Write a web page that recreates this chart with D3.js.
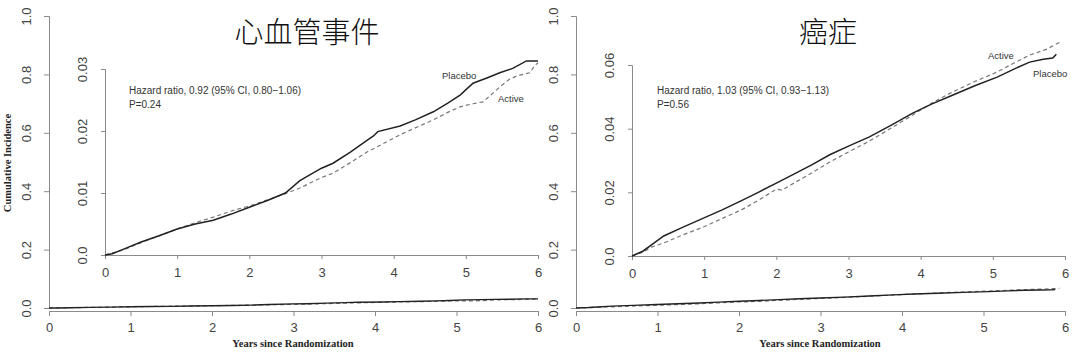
<!DOCTYPE html>
<html><head><meta charset="utf-8">
<script src="https://cdn.jsdelivr.net/npm/d3@7"></script>
<style>
html,body{margin:0;padding:0;background:#fff;}
svg{display:block;}
</style>
</head><body>
<svg id="c" width="1080" height="355"></svg>
<script>
// ---------- data ----------
const titles = ["心血管事件", "癌症"];
const hrTexts = ["Hazard ratio, 0.92 (95% CI, 0.80\u22121.06)", "Hazard ratio, 1.03 (95% CI, 0.93\u22121.13)"];
const pTexts = ["P=0.24", "P=0.56"];
const seriesNames = ["Placebo", "Active"];
const xTicks = [0, 1, 2, 3, 4, 5, 6];
const outerYTicks = [0.0, 0.2, 0.4, 0.6, 0.8, 1.0];
const cvdInsetTicks = [0.0, 0.01, 0.02, 0.03];
const cancerInsetTicks = [0.0, 0.02, 0.04, 0.06];
const yAxisTitle = "Cumulative Incidence";
const xAxisTitle = "Years since Randomization";

const cvdPlacebo = [[0,0],[0.1,0.0002],[0.25,0.0009],[0.5,0.0021],[0.75,0.0031],[1.0,0.0042],[1.25,0.0050],[1.5,0.0056],[1.75,0.0066],[2.0,0.0077],[2.25,0.0088],[2.5,0.0100],[2.7,0.0120],[3.0,0.0140],[3.16,0.0148],[3.4,0.0166],[3.63,0.0185],[3.72,0.0192],[3.78,0.0199],[4.09,0.0208],[4.3,0.0218],[4.55,0.0231],[4.75,0.0245],[4.92,0.0258],[5.1,0.0277],[5.3,0.0286],[5.47,0.0294],[5.65,0.0301],[5.84,0.0313],[6.0,0.0313]];
const cvdActive = [[0,0],[0.25,0.0008],[0.5,0.0020],[0.75,0.0031],[1.0,0.0042],[1.3,0.0054],[1.5,0.0061],[1.75,0.0071],[2.0,0.0079],[2.25,0.0089],[2.5,0.0099],[2.7,0.0108],[3.0,0.0125],[3.16,0.0132],[3.4,0.0149],[3.63,0.0166],[4.09,0.0194],[4.3,0.0205],[4.55,0.0218],[4.75,0.0230],[4.92,0.0239],[5.1,0.0244],[5.24,0.0247],[5.47,0.0271],[5.6,0.0283],[5.71,0.0289],[5.89,0.0294],[5.95,0.0305],[6.0,0.0310]];
const cancerPlacebo = [[0,0],[0.15,0.0015],[0.27,0.0035],[0.44,0.0063],[0.7,0.0090],[0.99,0.0119],[1.25,0.0145],[1.51,0.0173],[1.75,0.0200],[2.0,0.0229],[2.25,0.0258],[2.49,0.0286],[2.74,0.0318],[3.0,0.0345],[3.29,0.0374],[3.6,0.0412],[3.89,0.0449],[4.15,0.0477],[4.44,0.0505],[4.75,0.0535],[5.06,0.0562],[5.3,0.0588],[5.51,0.0609],[5.7,0.0618],[5.83,0.0622],[5.88,0.0634]];
const cancerActive = [[0,0],[0.15,0.0012],[0.27,0.0028],[0.44,0.0041],[0.7,0.0066],[0.99,0.0091],[1.25,0.0118],[1.51,0.0144],[1.75,0.0175],[2.0,0.0210],[2.08,0.0207],[2.25,0.0230],[2.49,0.0261],[2.74,0.0295],[3.0,0.0327],[3.29,0.0361],[3.6,0.0403],[3.89,0.0443],[4.15,0.0480],[4.44,0.0515],[4.75,0.0548],[5.06,0.0578],[5.3,0.0607],[5.51,0.0631],[5.75,0.0650],[5.93,0.0672]];

// ---------- layout ----------
const svg = d3.select("#c");
const SANS = "'Liberation Sans', Arial, sans-serif";
const SERIF = "'Liberation Serif', 'Times New Roman', serif";
const AXC = "#8a8a8a", TXC = "#444";

const panels = [
  {title: titles[0], hr: hrTexts[0], p: pTexts[0], placebo: cvdPlacebo, active: cvdActive,
   insetTicks: cvdInsetTicks, insetMax: 0.03, insetFmt: d => d === 0 ? "0.0" : d3.format(".2f")(d),
   ox0: 49, ox1: 538, oy0: 308, oy1: 16,
   ix0: 105, ix1: 538, iy0: 255, iyTop: 69,
   titleX: 307, hrX: 129,
   labels: [{t: seriesNames[0], x: 442, y: 79}, {t: seriesNames[1], x: 498, y: 102}],
   showYTitle: true, xTitleX: 293},
  {title: titles[1], hr: hrTexts[1], p: pTexts[1], placebo: cancerPlacebo, active: cancerActive,
   insetTicks: cancerInsetTicks, insetMax: 0.06, insetFmt: d => d === 0 ? "0.0" : d3.format(".2f")(d),
   ox0: 576, ox1: 1065, oy0: 308, oy1: 16,
   ix0: 632, ix1: 1065, iy0: 256, iyTop: 65,
   titleX: 828, hrX: 657,
   labels: [{t: seriesNames[1], x: 988, y: 59}, {t: seriesNames[0], x: 1033, y: 77}],
   showYTitle: false, xTitleX: 820}
];

function styleAxis(g){
  g.selectAll(".domain").attr("stroke", AXC).attr("stroke-width", 1);
  g.selectAll(".tick line").attr("stroke", AXC).attr("stroke-width", 1);
  g.selectAll(".tick text").attr("fill", TXC).attr("font-family", SANS).attr("font-size", 13);
}

panels.forEach(P => {
  const g = svg.append("g");
  // outer scales
  const ox = d3.scaleLinear().domain([0, 6]).range([P.ox0, P.ox1]);
  const oy = d3.scaleLinear().domain([0, 1]).range([P.oy0, P.oy1]);
  // inset scales
  const ix = d3.scaleLinear().domain([0, 6]).range([P.ix0, P.ix1]);
  const iy = d3.scaleLinear().domain([0, P.insetMax]).range([P.iy0, P.iyTop]);

  // outer x axis
  const gx = g.append("g").attr("transform", `translate(0,${P.oy0 + 3})`)
    .call(d3.axisBottom(ox).tickValues(xTicks).tickFormat(d3.format("d")).tickSizeOuter(0).tickSize(5).tickPadding(7));
  styleAxis(gx);
  // outer y axis
  const gy = g.append("g").attr("transform", `translate(${P.ox0},0)`)
    .call(d3.axisLeft(oy).tickValues(outerYTicks).tickFormat(d3.format(".1f")).tickSizeOuter(0).tickSize(5));
  styleAxis(gy);
  gy.selectAll(".tick text").attr("text-anchor", "middle").attr("x", 0).attr("dy", 0)
    .attr("transform", "translate(-21,0) rotate(-90)").attr("y", 0).attr("dominant-baseline", "middle");

  // inset x axis
  const gix = g.append("g").attr("transform", `translate(0,${P.iy0})`)
    .call(d3.axisBottom(ix).tickValues(xTicks).tickFormat(d3.format("d")).tickSizeOuter(0).tickSize(4).tickPadding(9));
  styleAxis(gix);
  // inset y axis
  const giy = g.append("g").attr("transform", `translate(${P.ix0},0)`)
    .call(d3.axisLeft(iy).tickValues(P.insetTicks).tickFormat(P.insetFmt).tickSizeOuter(0).tickSize(4));
  styleAxis(giy);
  giy.selectAll(".tick text").attr("text-anchor", "middle").attr("x", 0).attr("dy", 0)
    .attr("transform", "translate(-21,0) rotate(-90)").attr("y", 0).attr("dominant-baseline", "middle");

  // lines
  const outerLine = d3.line().x(d => ox(d[0])).y(d => oy(d[1]));
  const insetLine = d3.line().x(d => ix(d[0])).y(d => iy(d[1]));
  g.append("path").attr("d", outerLine(P.active)).attr("fill", "none")
    .attr("stroke", "#777").attr("stroke-width", 1.2).attr("stroke-dasharray", "4,3");
  g.append("path").attr("d", outerLine(P.placebo)).attr("fill", "none")
    .attr("stroke", "#222").attr("stroke-width", 1.4);
  g.append("path").attr("d", insetLine(P.active)).attr("fill", "none")
    .attr("stroke", "#777").attr("stroke-width", 1.2).attr("stroke-dasharray", "4,3");
  g.append("path").attr("d", insetLine(P.placebo)).attr("fill", "none")
    .attr("stroke", "#222").attr("stroke-width", 1.5);

  // texts
  g.append("text").attr("x", P.titleX).attr("y", 43).attr("text-anchor", "middle")
    .attr("font-family", "'Noto Sans CJK SC', sans-serif").attr("font-size", 29).attr("font-weight", 300)
    .attr("fill", "#111").text(P.title);
  g.append("text").attr("x", P.hrX).attr("y", 94).attr("font-family", SANS).attr("font-size", 10)
    .attr("fill", "#333").text(P.hr);
  g.append("text").attr("x", P.hrX).attr("y", 108).attr("font-family", SANS).attr("font-size", 10)
    .attr("fill", "#333").text(P.p);
  P.labels.forEach(L => {
    g.append("text").attr("x", L.x).attr("y", L.y).attr("font-family", SANS).attr("font-size", 9.5)
      .attr("fill", "#333").text(L.t);
  });
  g.append("text").attr("x", P.xTitleX).attr("y", 347).attr("text-anchor", "middle")
    .attr("font-family", SERIF).attr("font-size", 10.5).attr("font-weight", "bold").attr("fill", "#222")
    .text(xAxisTitle);
  if (P.showYTitle) {
    g.append("text").attr("transform", "translate(11,163) rotate(-90)").attr("text-anchor", "middle")
      .attr("font-family", SERIF).attr("font-size", 10.5).attr("font-weight", "bold").attr("fill", "#222")
      .text(yAxisTitle);
  }
});
</script>
</body></html>
